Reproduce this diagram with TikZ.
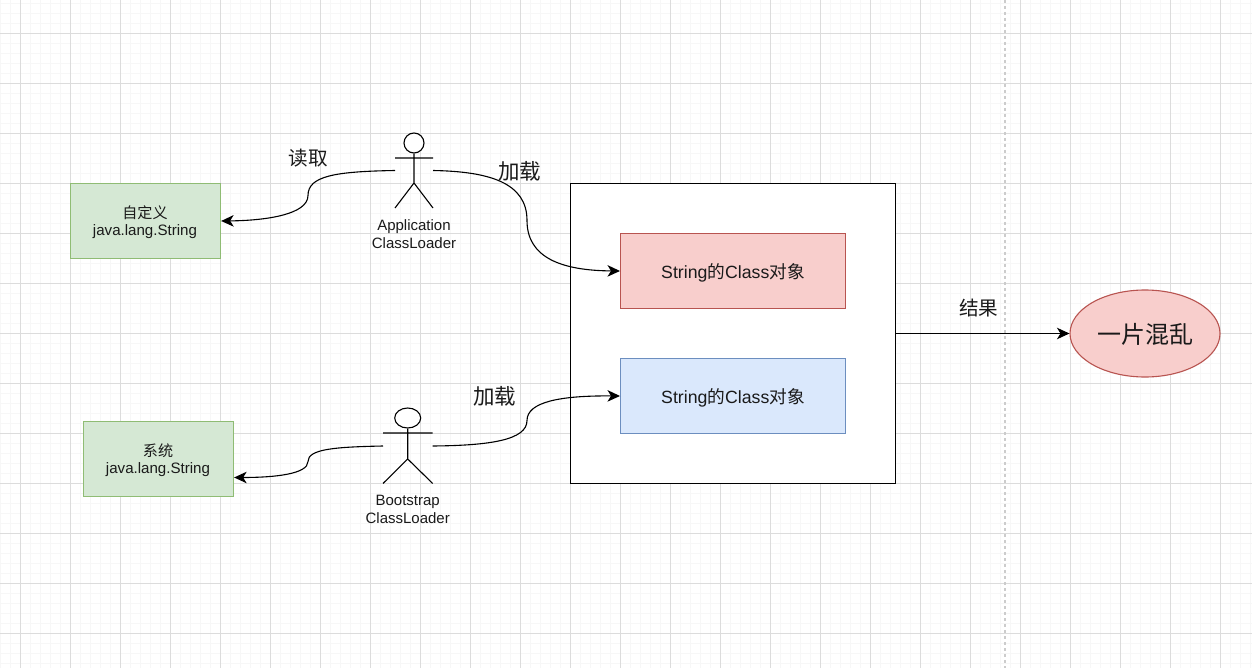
\documentclass[tikz,border=0pt]{standalone}
\usepackage{fontspec}
\setmainfont{Liberation Sans}
\newfontfamily\cjk{Noto Sans CJK SC}
\usetikzlibrary{arrows.meta,shapes.geometric}
\definecolor{gridminor}{HTML}{F7F7F7}
\definecolor{gridmajor}{HTML}{DCDCDC}
\definecolor{greenfill}{HTML}{D5E8D4}
\definecolor{greenline}{HTML}{8FBC74}
\definecolor{redfill}{HTML}{F8CECC}
\definecolor{redline}{HTML}{B85450}
\definecolor{bluefill}{HTML}{DAE8FC}
\definecolor{blueline}{HTML}{6C8EBF}
\definecolor{guide}{HTML}{CCCCCC}
\definecolor{ink}{HTML}{1A1A1A}
\tikzset{
  x=1pt,y=-1pt,
  box/.style={draw,line width=1pt,minimum width=#1,minimum height=75pt,inner sep=0pt,align=center,text=ink},
  source/.style={box=150pt,draw=greenline,line width=1.3pt,fill=greenfill,font=\fontsize{15.1}{17.5}\selectfont},
  classobj/.style={box=225pt,font=\fontsize{17.7}{20}\selectfont},
  caption/.style={inner sep=0pt,text=ink,font=\cjk\fontsize{19.6}{22}\selectfont},
  loadcaption/.style={caption,font=\cjk\fontsize{21.5}{25}\selectfont},
  actorlabel/.style={inner sep=0pt,align=center,text=ink,font=\fontsize{15}{18}\selectfont},
  head/.style={draw,ellipse,line width=1.1pt,inner sep=0pt,fill=white},
  limb/.style={line width=1.1pt},
  link/.style={line width=1.1pt,-{Stealth[length=12.5pt,width=11.5pt,inset=3.5pt]}},
}
% shifts a line of box text down without changing the height it occupies
\newcommand{\lowered}[2]{\raisebox{-#1}[\height][\depth]{#2}}
\begin{document}
\begin{tikzpicture}
\useasboundingbox (0,0) rectangle (1252,668);
\fill[white] (0,0) rectangle (1252,668);

% background grid
\foreach \gx in {0,...,125} \draw[gridminor,line width=1pt] (\gx*10+0.5,0) -- (\gx*10+0.5,668);
\foreach \gy in {0,...,66} \draw[gridminor,line width=1pt] (0,\gy*10+3.5) -- (1252,\gy*10+3.5);
\foreach \gx in {0,...,24} \draw[gridmajor,line width=1pt] (\gx*50+20.5,0) -- (\gx*50+20.5,668);
\foreach \gy in {0,...,12} \draw[gridmajor,line width=1pt] (0,\gy*50+33.5) -- (1252,\gy*50+33.5);
\draw[guide,line width=2pt,dash pattern=on 3pt off 3pt] (1004.5,0) -- (1004.5,668);

% source files
\node[source] (custom) at (145.5,221) {\lowered{1pt}{\cjk 自定义}\hspace*{1pt}\\\lowered{1pt}{java.lang.String}\hspace*{1pt}};
\node[source] (system) at (158.5,459) {\lowered{1pt}{\cjk 系统}\hspace*{1pt}\\\lowered{1pt}{java.lang.String}\hspace*{1pt}};

% runtime area with the two Class objects
\node[draw,line width=1pt,fill=white,minimum width=325pt,minimum height=300pt,inner sep=0pt] (area) at (733,333.5) {};
\node[classobj,draw=redline,fill=redfill] (redclass) at (733,271) {\lowered{2pt}{String{\cjk 的}Class{\cjk 对象}}};
\node[classobj,draw=blueline,fill=bluefill] (blueclass) at (733,396) {\lowered{2pt}{String{\cjk 的}Class{\cjk 对象}}};
\node[draw=redline,fill=redfill,ellipse,line width=1.1pt,minimum width=150pt,minimum height=87pt,inner sep=0pt,text=ink,font=\cjk\fontsize{24}{28}\selectfont] (chaos) at (1145,333.5) {\lowered{1pt}{一片混乱}};

% application class loader figure
\node[head,minimum width=20pt,minimum height=20pt] (apphead) at (414,143) {};
\coordinate (apphip) at (414,183);
\coordinate (appleft) at (395,158);
\coordinate (appright) at (433,158);
\coordinate (appfootl) at (395,208);
\coordinate (appfootr) at (433,208);
\coordinate (appout) at (395,170.5);
\coordinate (appin) at (433,170.5);
\draw[limb] (apphead) -- (apphip) (appleft) -- (appright) (appfootl) -- (apphip) -- (appfootr);
\node[actorlabel] (applabel) at (414,234) {Application\\ClassLoader};

% bootstrap class loader figure
\node[head,minimum width=26pt,minimum height=20pt] (boothead) at (407.7,418) {};
\coordinate (boothip) at (407.7,459);
\coordinate (bootleft) at (383,433);
\coordinate (bootright) at (432.7,433);
\coordinate (bootfootl) at (383,483.5);
\coordinate (bootfootr) at (432.7,483.5);
\coordinate (bootout) at (383,446);
\coordinate (bootin) at (432.7,446);
\draw[limb] (boothead) -- (boothip) (bootleft) -- (bootright) (bootfootl) -- (boothip) -- (bootfootr);
\node[actorlabel] (bootlabel) at (407.7,509) {Bootstrap\\ClassLoader};

% connectors
\draw[link] (appout) .. controls (335,171.5) and (308,176) .. (308,195.5) .. controls (308,214) and (268,220.5) .. (custom.east);
\draw[link] (appin) .. controls (490,171.5) and (527,183) .. (527,220.5) .. controls (527,258) and (562,270.5) .. (redclass.west);
\draw[link] (bootout) .. controls (335,447) and (308,449) .. (308,461.5) .. controls (308,474) and (275,477.5) .. (system.east |- 0,477.5);
\draw[link] (bootin) .. controls (490,445.5) and (527,440) .. (527,420.5) .. controls (527,402) and (560,395.5) .. (blueclass.west);
\draw[link] (area.east) -- (chaos.west);

% captions
\node[caption] (readcap) at (308,158.5) {读取};
\node[loadcaption] (loadcapa) at (519.5,171.5) {加载};
\node[loadcaption] (loadcapb) at (494.5,396.5) {加载};
\node[caption] (resultcap) at (978.7,308.5) {结果};
\end{tikzpicture}
\end{document}
